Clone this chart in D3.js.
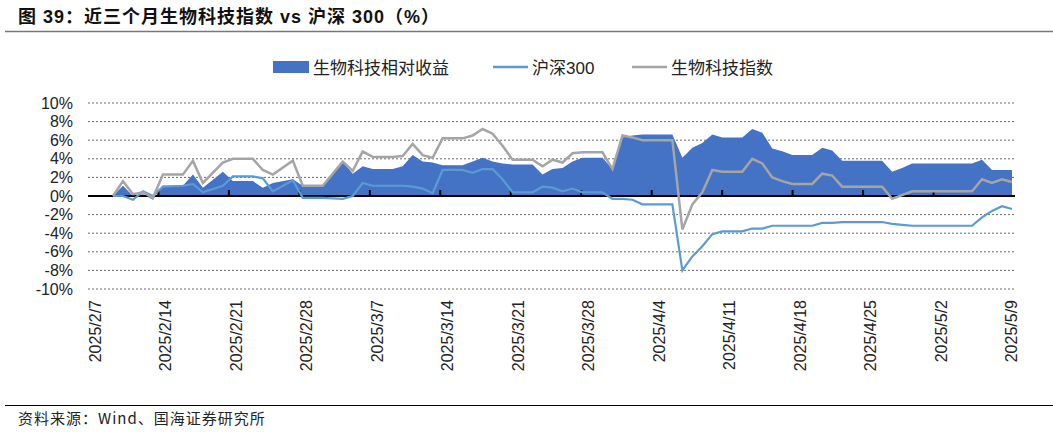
<!DOCTYPE html><html><head><meta charset="utf-8">
<script src="https://cdn.jsdelivr.net/npm/d3@7"></script>
<style>body{margin:0;background:#fff}svg{display:block}text{font-family:Arial,"Liberation Sans","Noto Sans CJK SC",sans-serif}</style></head><body>
<script>
const days=[1,2,3,4,5,6,8,9,10,12,13,15,16,17,19,20,22,24,25,26,27,29,30,31,32,33,34,36,37,38,39,40,41,43,44,45,46,47,48,50,51,52,53,54,57,58,59,60,61,62,64,65,66,67,68,69,71,72,73,74,78,79,80,81,87,88,89,90,91];
const relative=[0,1.1,0,0.2,-0.4,1.1,1.1,2.3,0.9,2.6,1.6,1.6,0.9,1.4,1.8,1.1,1.1,3.7,2.4,3.2,2.9,2.9,3.2,4.4,3.7,3.6,3.3,3.3,3.7,4.1,3.7,3.5,3.4,3.4,2.3,2.9,3.0,3.7,4.1,4.1,2.9,6.3,6.5,6.6,6.6,4.1,5.2,5.7,6.6,6.3,6.3,7.2,6.8,5.1,4.8,4.4,4.4,5.2,4.9,3.8,3.8,2.6,3.0,3.5,3.5,3.9,2.8,2.8,2.8];
const hs300=[0,0,-0.4,0.5,0,1.0,1.1,1.3,0.4,1.1,2.1,2.1,1.9,0.5,1.7,-0.2,-0.2,-0.3,0,1.4,1.1,1.1,1.1,1.0,0.8,0.3,2.8,2.8,2.5,2.9,2.9,1.8,0.4,0.4,1.0,0.9,0.5,0.8,0.4,0.4,-0.3,-0.3,-0.4,-0.9,-0.9,-8.0,-6.5,-5.4,-4.1,-3.8,-3.8,-3.5,-3.5,-3.2,-3.2,-3.2,-3.2,-2.9,-2.9,-2.8,-2.8,-3.0,-3.1,-3.2,-3.2,-2.3,-1.6,-1.1,-1.4];
const bioIndex=[0,1.6,0.2,0.4,-0.2,2.3,2.3,3.8,1.4,3.6,4.0,4.0,2.8,2.3,3.8,1.1,1.1,3.7,2.7,4.8,4.2,4.2,4.3,5.6,4.4,4.1,6.2,6.2,6.5,7.2,6.7,5.4,3.9,3.9,3.2,3.9,3.6,4.6,4.7,4.7,2.9,6.5,6.3,6.0,6.0,-3.6,-0.9,0.4,2.8,2.6,2.6,4.0,3.5,2.0,1.6,1.3,1.3,2.4,2.2,1.0,1.0,-0.3,0.1,0.5,0.5,1.8,1.4,1.8,1.5];
const tickLabels=["2025/2/7","2025/2/14","2025/2/21","2025/2/28","2025/3/7","2025/3/14","2025/3/21","2025/3/28","2025/4/4","2025/4/11","2025/4/18","2025/4/25","2025/5/2","2025/5/9"];
const yTicks=[10,8,6,4,2,0,-2,-4,-6,-8,-10];
const W=1053,H=433;
const svg=d3.select("body").append("svg").attr("width",W).attr("height",H);
const x=d3.scaleLinear().domain([0,91]).range([103,1012]);
const xl=d3.scaleLinear().domain([0,13]).range([95,1011]);
const y=d3.scaleLinear().domain([-10,10]).range([289,103]);
svg.append("text").attr("x",18).attr("y",23).attr("font-size",18).attr("font-weight","bold").attr("fill","#111").attr("letter-spacing",1).text("图 39：近三个月生物科技指数 vs 沪深 300（%）");
svg.append("line").attr("x1",5).attr("x2",W).attr("y1",31.5).attr("y2",31.5).attr("stroke","#777").attr("stroke-width",1.5);
svg.selectAll(".g").data(yTicks.filter(v=>v!==0)).join("line").attr("x1",88).attr("x2",1015).attr("y1",d=>y(d)).attr("y2",d=>y(d)).attr("stroke","#444").attr("stroke-dasharray","2,2").attr("stroke-width",0.8);
svg.selectAll(".yt").data(yTicks).join("text").attr("x",73).attr("y",d=>y(d)+5.5).attr("text-anchor","end").attr("font-size",16).attr("fill","#222").text(d=>d+"%");
const pts=days.map((d,i)=>({d,r:relative[i],h:hs300[i],b:bioIndex[i]}));
svg.append("path").datum(pts).attr("fill","#4472C4").attr("d",d3.area().x(p=>x(p.d)).y0(y(0)).y1(p=>y(p.r)));
svg.append("line").attr("x1",88).attr("x2",1015).attr("y1",y(0)).attr("y2",y(0)).attr("stroke","#000").attr("stroke-width",2);
svg.selectAll(".tk").data(d3.range(1,13)).join("line").attr("x1",d=>xl(d)-7).attr("x2",d=>xl(d)-7).attr("y1",y(0)-6).attr("y2",y(0)).attr("stroke","#000").attr("stroke-width",2);
svg.append("path").datum(pts).attr("fill","none").attr("stroke","#5B9BD5").attr("stroke-width",2.2).attr("d",d3.line().x(p=>x(p.d)).y(p=>y(p.h)));
svg.append("path").datum(pts).attr("fill","none").attr("stroke","#A5A5A5").attr("stroke-width",2.5).attr("d",d3.line().x(p=>x(p.d)).y(p=>y(p.b)));
svg.selectAll(".xl").data(tickLabels).join("text").attr("transform",(d,i)=>`translate(${xl(i)+6},300) rotate(-90)`).attr("text-anchor","end").attr("font-size",16).attr("fill","#222").text(d=>d);
const lg=svg.append("g");
lg.append("rect").attr("x",273).attr("y",61).attr("width",36).attr("height",12).attr("fill","#4472C4");
lg.append("text").attr("x",313).attr("y",74).attr("font-size",17).attr("fill","#222").text("生物科技相对收益");
lg.append("line").attr("x1",493).attr("x2",528).attr("y1",67).attr("y2",67).attr("stroke","#5B9BD5").attr("stroke-width",2.5);
lg.append("text").attr("x",532).attr("y",74).attr("font-size",17).attr("fill","#222").text("沪深300");
lg.append("line").attr("x1",632).attr("x2",667).attr("y1",67).attr("y2",67).attr("stroke","#A5A5A5").attr("stroke-width",2.5);
lg.append("text").attr("x",671).attr("y",74).attr("font-size",17).attr("fill","#222").text("生物科技指数");
svg.append("line").attr("x1",5).attr("x2",W).attr("y1",405.5).attr("y2",405.5).attr("stroke","#000").attr("stroke-width",1.2);
svg.append("text").attr("x",18).attr("y",424).attr("font-size",15).attr("fill","#222").attr("letter-spacing",1).attr("style","font-family:'Noto Sans CJK SC'").text("资料来源：Wind、国海证券研究所");
</script></body></html>
